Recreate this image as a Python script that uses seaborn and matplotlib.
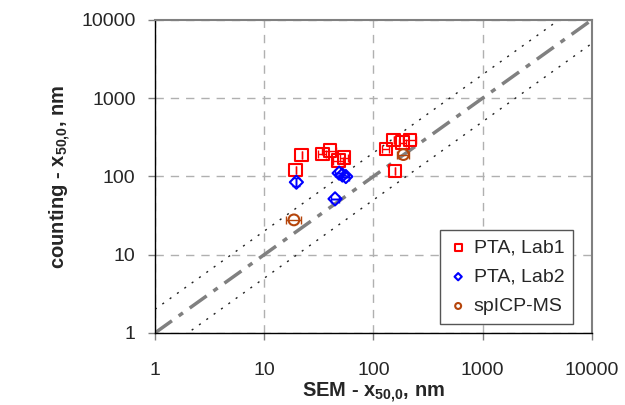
import numpy as np
import pandas as pd
import matplotlib
matplotlib.use("Agg")
import matplotlib.pyplot as plt
import seaborn as sns

# values (SEM x50,0 vs counting x50,0, nm)
lab1_sem = [19.4, 22.0, 34.1, 39.8, 47.9, 53.9, 130, 153, 185, 217, 158]
lab1_cnt = [121, 187, 194, 214, 159, 174, 223, 293, 270, 293, 117]
lab1_xerr = [0, 0, 3, 6, 5, 5, 10, 0, 14, 30, 0]

lab2_sem = [19.7, 48.5, 52.0, 55.9, 44.5]
lab2_cnt = [84.3, 110, 104, 99.5, 51.6]
lab2_xerr = [0, 4, 0, 4, 4]
lab2_yerr = [10, 0, 0, 0, 0]

icp_sem = [18.7, 188]
icp_cnt = [27.8, 190]
icp_xerr = [3, 25]

ref_x = [1, 10000]
ticks = [1, 10, 100, 1000, 10000]
tick_labels = ["1", "10", "100", "1000", "10000"]

sns.set_theme(style="white")
plt.rcParams["font.family"] = ["Liberation Sans", "DejaVu Sans"]
plt.rcParams["mathtext.fontset"] = "custom"
plt.rcParams["mathtext.rm"] = "Liberation Sans"
plt.rcParams["mathtext.bf"] = "Liberation Sans:bold"

fig = plt.figure(figsize=(6.25, 4.05), dpi=100)
ax = fig.add_axes([0.248, 0.178, 0.699, 0.773])

# reference lines: 1:1 and factor-of-2 band
ref = pd.DataFrame({"x": ref_x, "y": ref_x})
sns.lineplot(data=ref, x="x", y="y", ax=ax, color="#808080", lw=2.5,
             linestyle=(0, (6, 2.4, 1.5, 2.4)), zorder=2)
sns.lineplot(x=ref_x, y=[v * 2 for v in ref_x], ax=ax, color="#222222", lw=1,
             linestyle=(0, (1.5, 5)), zorder=2)
sns.lineplot(x=ref_x, y=[v / 2 for v in ref_x], ax=ax, color="#222222", lw=1,
             linestyle=(0, (1.5, 5)), zorder=2)

series = [
    ("PTA, Lab1", lab1_sem, lab1_cnt, lab1_xerr, None, "s", "#ff0000", 80),
    ("PTA, Lab2", lab2_sem, lab2_cnt, lab2_xerr, lab2_yerr, "D", "#0000ff", 45),
    ("spICP-MS", icp_sem, icp_cnt, icp_xerr, None, "o", "#b5450b", 60),
]
for name, xs, ys, xe, ye, mk, col, sz in series:
    ax.errorbar(xs, ys, xerr=xe, yerr=ye, fmt="none", ecolor=col, elinewidth=1,
                capsize=3, zorder=3)
    sns.scatterplot(x=xs, y=ys, ax=ax, marker=mk, s=sz, facecolors="none",
                    edgecolor=col, linewidth=1.5, label=name, zorder=4)

ax.set_xscale("log")
ax.set_yscale("log")
ax.set_xlim(1, 10000)
ax.set_ylim(1, 10000)
ax.set_xticks(ticks)
ax.set_xticklabels(tick_labels)
ax.set_yticks(ticks)
ax.set_yticklabels(tick_labels)
ax.minorticks_off()
ax.tick_params(axis="both", direction="out", length=5, width=1, color="#808080",
               labelsize=14, bottom=True, left=True)
ax.tick_params(axis="x", pad=16)
ax.tick_params(axis="y", pad=9)
ax.grid(True, which="major", color="#b0b0b0", linestyle=(0, (6, 5)), lw=1)

for s in ["left", "bottom"]:
    ax.spines[s].set_color("black")
    ax.spines[s].set_linewidth(1)
for s in ["top", "right"]:
    ax.spines[s].set_color("#808080")
    ax.spines[s].set_linewidth(1.5)

ax.set_xlabel(r"SEM - x$_{\mathbf{50{,}0}}$, nm", fontsize=14.5, fontweight="bold", labelpad=1)
ax.set_ylabel(r"counting - x$_{\mathbf{50{,}0}}$, nm", fontsize=14.5, fontweight="bold", labelpad=6)

leg = ax.legend(loc="lower right", bbox_to_anchor=(0.957, 0.029), borderaxespad=0,
                fontsize=14, frameon=True, fancybox=False, edgecolor="#555555",
                framealpha=1, markerscale=0.55, handletextpad=0.3, borderpad=0.45,
                labelspacing=0.6, handlelength=1.0)
leg.get_frame().set_linewidth(1)

fig.savefig("out.png", dpi=100)
